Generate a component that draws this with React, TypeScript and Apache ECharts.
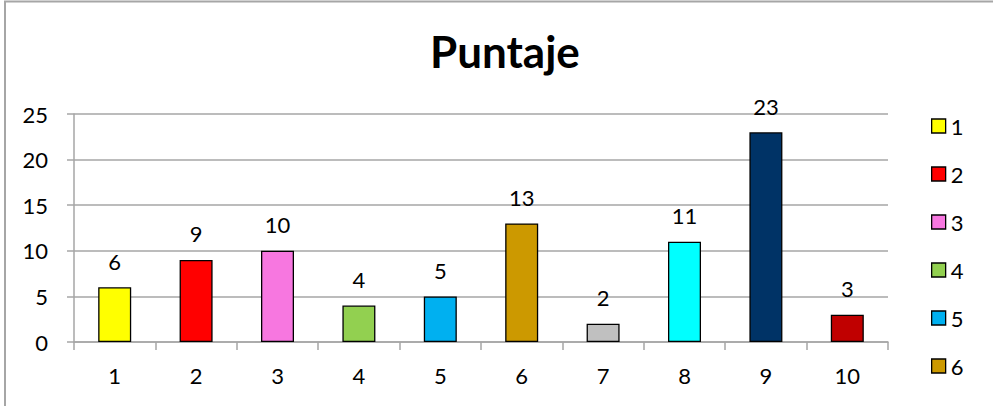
import React, { useEffect, useRef } from "react";
import * as echarts from "echarts";

const categories = ["1", "2", "3", "4", "5", "6", "7", "8", "9", "10"];
const values = [6, 9, 10, 4, 5, 13, 2, 11, 23, 3];
const colors = ["#FFFF00", "#FF0000", "#F777E0", "#92D050", "#00B0F0", "#CC9900", "#C0C0C0", "#00FFFF", "#003366", "#C00000"];
const yTicks = [0, 5, 10, 15, 20, 25];
const legendItems = ["1", "2", "3", "4", "5", "6"];
const title = "Puntaje";

const FONT = "Lato, Carlito, Calibri, sans-serif";

export default function App() {
  const ref = useRef<HTMLDivElement>(null);
  useEffect(() => {
    if (!ref.current) return;
    const chart = echarts.init(ref.current, null, { renderer: "svg" });
    const series = categories.map((c, i) => ({
      name: c,
      type: "bar",
      data: categories.map((_, j) => (j === i ? values[i] : null)),
      barWidth: 33,
      barGap: "-100%",
      itemStyle: { color: colors[i], borderColor: "#000000", borderWidth: 1.3 },
      label: {
        show: true,
        position: "top",
        distance: 15,
        color: "#000000",
        fontFamily: FONT,
        fontSize: 22,
      },
    }));
    chart.setOption({
      animation: false,
      backgroundColor: "#ffffff",
      title: {
        text: title,
        left: 430,
        top: 29,
        padding: 0,
        textStyle: { fontFamily: FONT, fontWeight: "bold", fontSize: 44, color: "#000000" },
      },
      graphic: [
        {
          type: "rect",
          shape: { x: 5, y: 1.5, width: 1200, height: 800 },
          style: { fill: "none", stroke: "#a6a6a6", lineWidth: 2 },
          silent: true,
        },
      ],
      legend: {
        orient: "vertical",
        left: 931,
        top: 115,
        height: 1000,
        padding: 0,
        itemWidth: 14,
        itemHeight: 14,
        itemGap: 26,
        icon: "rect",
        data: legendItems,
        itemStyle: { borderColor: "#000000", borderWidth: 1.3 },
        textStyle: { fontFamily: FONT, fontSize: 22, color: "#000000", lineHeight: 22 },
      },
      grid: { left: 74, right: 105, top: 114, bottom: 64, containLabel: false },
      xAxis: {
        type: "category",
        data: categories,
        boundaryGap: true,
        axisLine: { lineStyle: { color: "#a6a6a6", width: 1.5 } },
        axisTick: { show: true, alignWithLabel: false, length: 8, lineStyle: { color: "#a6a6a6", width: 1.5 } },
        axisLabel: { color: "#000000", fontFamily: FONT, fontSize: 22, margin: 22 },
        splitLine: { show: false },
      },
      yAxis: {
        type: "value",
        min: yTicks[0],
        max: yTicks[yTicks.length - 1],
        interval: 5,
        axisLine: { show: true, lineStyle: { color: "#a6a6a6", width: 1.5 } },
        axisTick: { show: true, length: 7, lineStyle: { color: "#a6a6a6", width: 1.5 } },
        axisLabel: { color: "#000000", fontFamily: FONT, fontSize: 22, margin: 26 },
        splitLine: { show: true, lineStyle: { color: "#a6a6a6", width: 1.5 } },
      },
      series,
    });
    return () => chart.dispose();
  }, []);
  return (
    <div
      ref={ref}
      style={{ position: "absolute", left: 0, top: 0, width: 993, height: 406 }}
    />
  );
}
